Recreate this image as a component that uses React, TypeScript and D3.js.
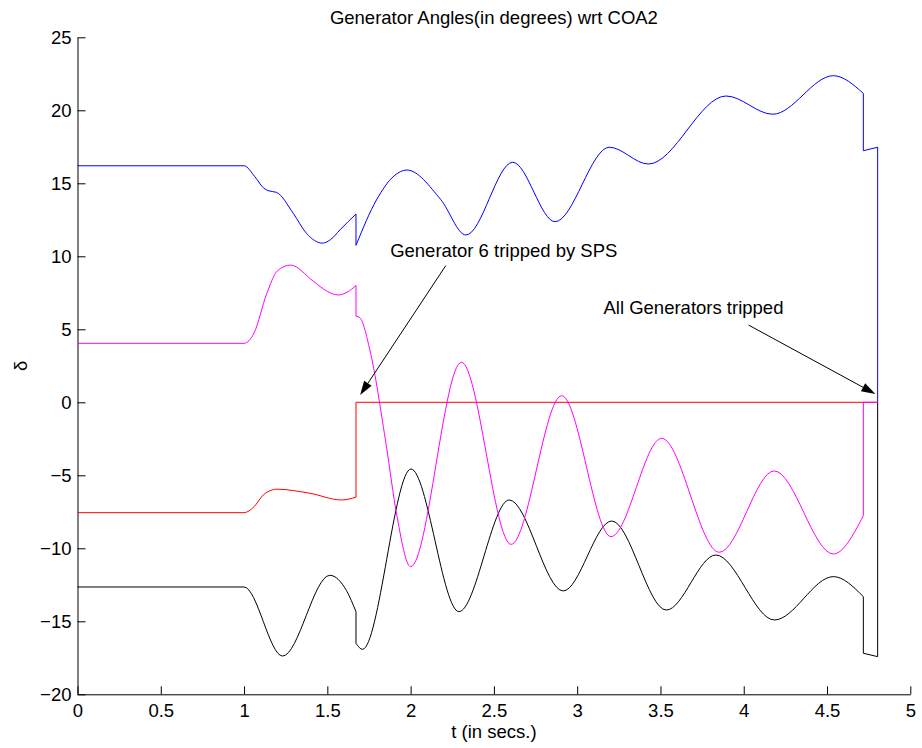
import React, { useRef, useEffect } from "react";
import * as d3 from "d3";

type Pt = [number, number];

// t (s), delta (deg). a repeated t means a vertical jump
const blue: Pt[] = [
  [0, 16.2], [1.0, 16.2], [1.065, 15.45], [1.12, 14.65], [1.15, 14.48], [1.195, 14.38],
  [1.295, 12.95], [1.375, 11.57], [1.47, 10.9], [1.52, 11.15], [1.575, 11.8],
  [1.672, 12.9], [1.672, 10.75], [1.795, 13.86], [1.9, 15.5], [1.977, 15.91],
  [2.18, 13.9], [2.332, 11.46], [2.613, 16.44], [2.867, 12.37],
  [3.193, 17.47], [3.427, 16.32], [3.894, 20.98], [4.174, 19.73], [4.538, 22.37],
  [4.718, 21.16], [4.718, 17.23], [4.804, 17.47], [4.804, 0],
];

const magenta: Pt[] = [
  [0, 4.04], [1.0, 4.04], [1.06, 4.75], [1.135, 7.4], [1.2, 9.0],
  [1.279, 9.4], [1.415, 8.3], [1.5, 7.6], [1.565, 7.35], [1.62, 7.55], [1.672, 8.0],
  [1.672, 5.9], [1.695, 5.8], [1.755, 3.6], [1.855, -3.04], [1.915, -7.6], [2.0, -11.26],
  [2.305, 2.74], [2.603, -9.73], [2.907, 0.45], [3.203, -9.2], [3.507, -2.47],
  [3.853, -10.27], [4.183, -4.7], [4.538, -10.39], [4.718, -7.77], [4.718, 0], [4.804, 0],
];

const red: Pt[] = [
  [0, -7.56], [1.0, -7.56], [1.06, -7.15], [1.115, -6.35], [1.17, -6.0], [1.195, -5.95],
  [1.395, -6.23], [1.585, -6.69], [1.672, -6.5], [1.672, 0], [4.804, 0],
];

const black: Pt[] = [
  [0, -12.65], [1.0, -12.65], [1.231, -17.38], [1.515, -11.85], [1.615, -12.9], [1.672, -14.34],
  [1.672, -16.51], [1.711, -16.92], [2.002, -4.57], [2.29, -14.34], [2.592, -6.69],
  [2.916, -12.92], [3.207, -8.13], [3.535, -14.23], [3.832, -10.46], [4.184, -14.91],
  [4.538, -11.94], [4.718, -13.31], [4.718, -17.19], [4.804, -17.42], [4.804, 0],
];

const xTicks = [0, 0.5, 1, 1.5, 2, 2.5, 3, 3.5, 4, 4.5, 5];
const yTicks = [-20, -15, -10, -5, 0, 5, 10, 15, 20, 25];

// annotations in data coords: text position, arrow start, arrow tip
const notes = [
  { label: "Generator 6 tripped by SPS", text: [1.877, 9.97], from: [2.211, 9.36], to: [1.697, 0.5] },
  { label: "All Generators tripped", text: [3.158, 6.05], from: [4.029, 5.29], to: [4.79, 0.57] },
];

const W = 922;
const H = 748;
const font = "'Liberation Sans', Arial, Helvetica, sans-serif";

function App() {
  const svgRef = useRef<SVGSVGElement>(null);

  useEffect(() => {
    const svg = d3.select(svgRef.current);
    svg.selectAll("*").remove();

    const x = d3.scaleLinear().domain([0, 5]).range([77.5, 910.3]);
    const y = d3.scaleLinear().domain([-20, 25]).range([694.3, 37.3]);

    const fmt = (d: number) => (d < 0 ? "\u2212" + Math.abs(d) : String(d));

    const gx = svg.append("g")
      .attr("transform", `translate(0,${y(-20)})`)
      .call(d3.axisBottom(x).tickValues(xTicks).tickFormat(fmt as any).tickSizeInner(-8).tickSizeOuter(0).tickPadding(10));
    const gy = svg.append("g")
      .attr("transform", `translate(${x(0)},0)`)
      .call(d3.axisLeft(y).tickValues(yTicks).tickFormat(fmt as any).tickSizeInner(-8).tickSizeOuter(0).tickPadding(6));

    [gx, gy].forEach(g => {
      g.selectAll("text").style("font-family", font).style("font-size", "18.5px").attr("fill", "#000");
      g.selectAll("line").attr("stroke", "#000");
      g.select(".domain").attr("stroke", "#000");
    });

    const line = d3.line<Pt>()
      .x(d => x(d[0]))
      .y(d => y(d[1]))
      .curve(d3.curveMonotoneX);

    // split at vertical jumps, join the pieces with straight segments
    const buildPath = (pts: Pt[]) => {
      const segs: Pt[][] = [];
      let cur: Pt[] = [];
      pts.forEach((p, i) => {
        if (i > 0 && p[0] === pts[i - 1][0]) { segs.push(cur); cur = []; }
        cur.push(p);
      });
      segs.push(cur);
      return segs.map((s, i) => {
        const d = s.length === 1 ? `M${x(s[0][0])},${y(s[0][1])}` : (line(s) as string);
        return i === 0 ? d : d.replace(/^M/, "L");
      }).join("");
    };

    const series: [Pt[], string][] = [
      [black, "#000000"],
      [red, "#ff0000"],
      [magenta, "#ff00ff"],
      [blue, "#0000ff"],
    ];
    series.forEach(([pts, c]) => {
      svg.append("path")
        .attr("d", buildPath(pts))
        .attr("fill", "none")
        .attr("stroke", c)
        .attr("stroke-width", 1);
    });

    // annotations
    notes.forEach(n => {
      const x0 = x(n.from[0]), y0 = y(n.from[1]);
      const x1 = x(n.to[0]), y1 = y(n.to[1]);
      const ang = Math.atan2(y1 - y0, x1 - x0);
      const len = 14, hw = 4.5;
      const bx = x1 - len * Math.cos(ang), by = y1 - len * Math.sin(ang);
      svg.append("line")
        .attr("x1", x0).attr("y1", y0).attr("x2", bx).attr("y2", by)
        .attr("stroke", "#000").attr("stroke-width", 1);
      const head = [
        [x1, y1],
        [bx + hw * Math.sin(ang), by - hw * Math.cos(ang)],
        [bx - hw * Math.sin(ang), by + hw * Math.cos(ang)],
      ];
      svg.append("polygon")
        .attr("points", head.map(p => p.join(",")).join(" "))
        .attr("fill", "#000");
      svg.append("text")
        .attr("x", x(n.text[0])).attr("y", y(n.text[1]))
        .style("font-family", font).style("font-size", "18.5px")
        .text(n.label);
    });

    svg.append("text")
      .attr("x", (x(0) + x(5)) / 2).attr("y", 24)
      .attr("text-anchor", "middle")
      .style("font-family", font).style("font-size", "18.5px")
      .text("Generator Angles(in degrees) wrt COA2");

    svg.append("text")
      .attr("x", (x(0) + x(5)) / 2).attr("y", 738)
      .attr("text-anchor", "middle")
      .style("font-family", font).style("font-size", "18.5px")
      .text("t (in secs.)");

    svg.append("text")
      .attr("transform", `translate(27,${(y(25) + y(-20)) / 2}) rotate(-90)`)
      .attr("text-anchor", "middle")
      .style("font-family", font).style("font-size", "18.5px")
      .text("δ");
  }, []);

  return (
    <svg ref={svgRef} width={W} height={H}
      style={{ position: "absolute", left: 0, top: 0, background: "#fff" }} />
  );
}

export default App;
